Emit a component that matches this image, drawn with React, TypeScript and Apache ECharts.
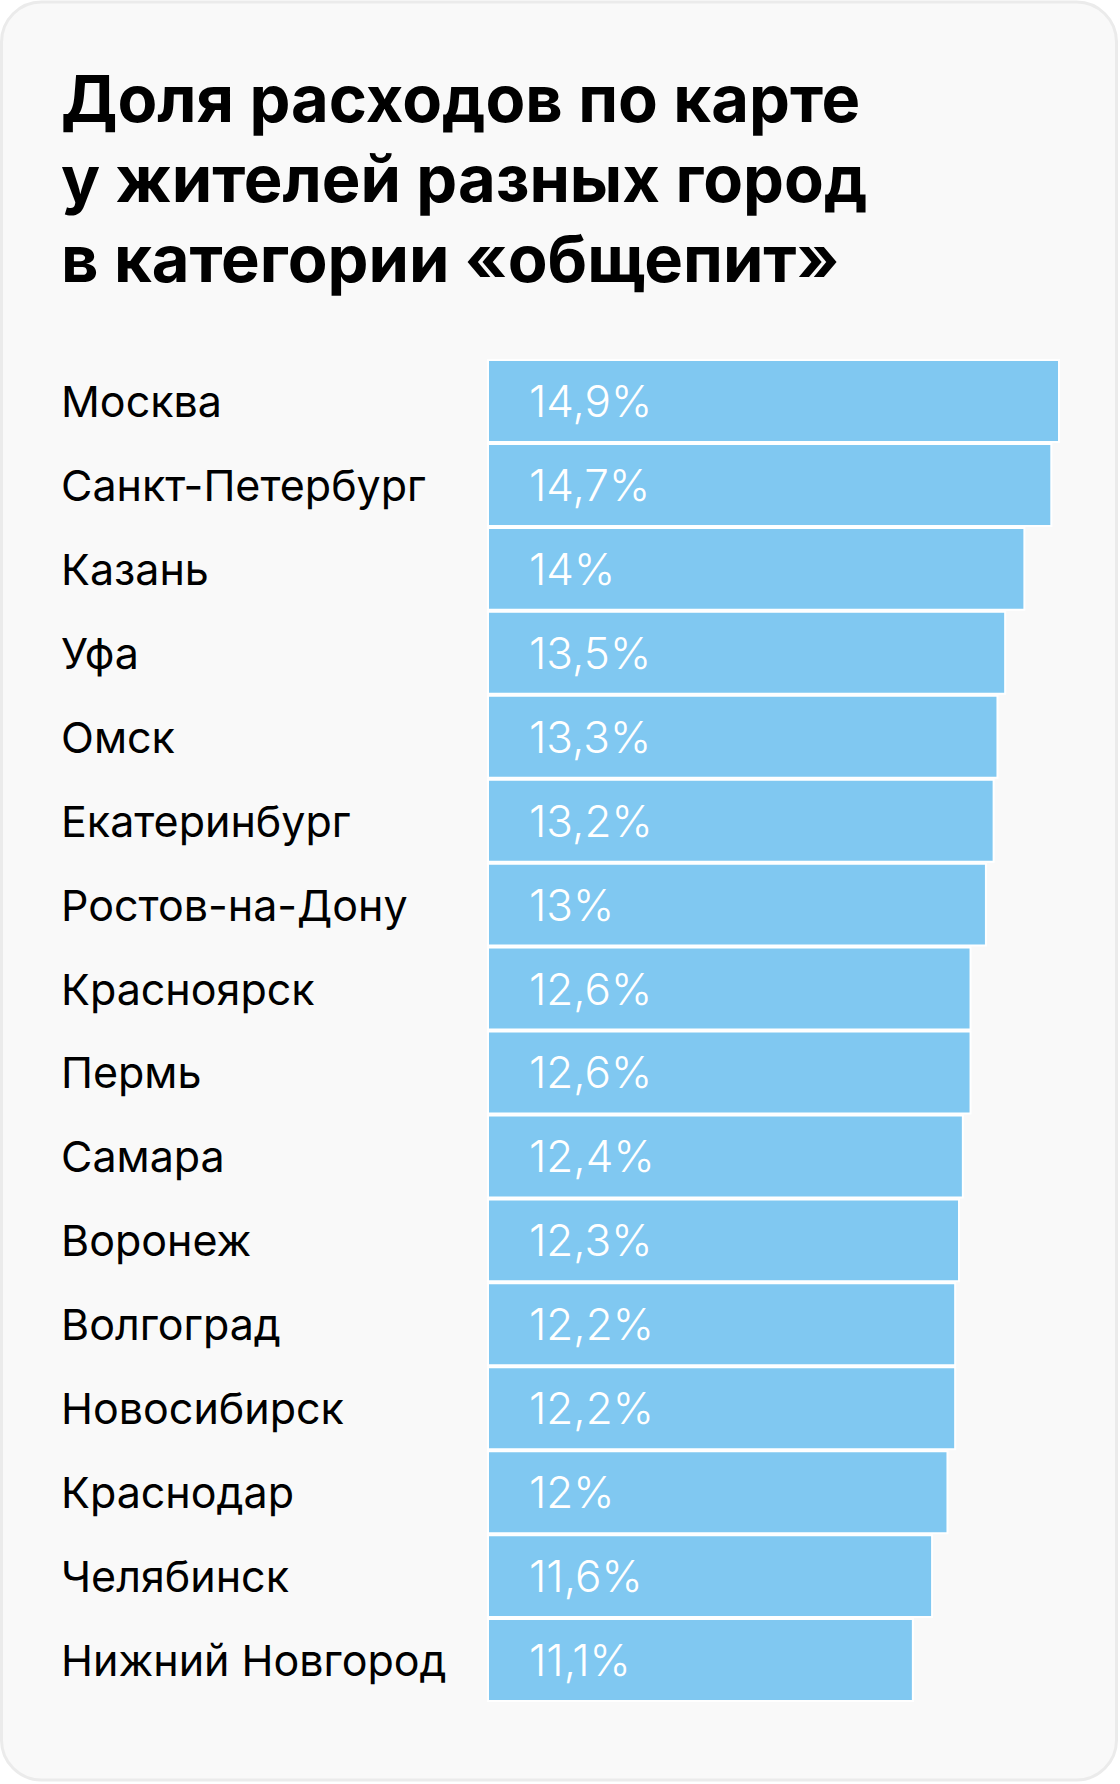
import React, { useEffect, useRef } from "react";
import * as echarts from "echarts";

const titleLines = [
  "Доля расходов по карте",
  "у жителей разных город",
  "в категории «общепит»",
];

const cities = [
  "Москва",
  "Санкт-Петербург",
  "Казань",
  "Уфа",
  "Омск",
  "Екатеринбург",
  "Ростов-на-Дону",
  "Красноярск",
  "Пермь",
  "Самара",
  "Воронеж",
  "Волгоград",
  "Новосибирск",
  "Краснодар",
  "Челябинск",
  "Нижний Новгород",
];

const shares = [14.9, 14.7, 14, 13.5, 13.3, 13.2, 13, 12.6, 12.6, 12.4, 12.3, 12.2, 12.2, 12, 11.6, 11.1];

const FONT = "Inter, Roboto, 'Noto Sans', sans-serif";

export default function App() {
  const ref = useRef<HTMLDivElement>(null);
  useEffect(() => {
    if (!ref.current) return;
    const chart = echarts.init(ref.current, null, { renderer: "svg" });
    chart.setOption({
      animation: false,
      backgroundColor: "#ffffff",
      graphic: [
        {
          type: "rect",
          z: -10,
          shape: { x: 1.5, y: 2, width: 1115, height: 1778, r: 40 },
          style: { fill: "#f9f9f9", stroke: "#ebebeb", lineWidth: 3 },
          silent: true,
        },
      ],
      title: {
        text: titleLines.join("\n"),
        left: 56,
        top: 53,
        textStyle: {
          fontFamily: FONT,
          fontSize: 65,
          fontWeight: "bold",
          lineHeight: 80,
          color: "#000000",
        },
      },
      grid: { left: 487, top: 359, width: 573, height: 1343, containLabel: false },
      xAxis: {
        type: "value",
        min: 0,
        max: "dataMax",
        show: false,
      },
      yAxis: {
        type: "category",
        data: cities,
        inverse: true,
        axisLine: { show: false },
        axisTick: { show: false },
        axisLabel: {
          align: "left",
          margin: 426,
          fontFamily: FONT,
          fontSize: 43,
          color: "#000000",
        },
      },
      series: [
        {
          type: "bar",
          data: shares,
          barCategoryGap: 0,
          itemStyle: { color: "#80c8f1", borderColor: "#ffffff", borderWidth: 2 },
          label: {
            show: true,
            position: "insideLeft",
            distance: 42,
            fontFamily: FONT,
            fontSize: 44,
            fontWeight: 300,
            color: "#ffffff",
            formatter: (p: any) => String(p.value).replace(".", ",") + "%",
          },
        },
      ],
    });
    return () => chart.dispose();
  }, []);
  return (
    <div
      ref={ref}
      style={{ position: "absolute", left: 0, top: 0, width: 1120, height: 1784 }}
    />
  );
}
